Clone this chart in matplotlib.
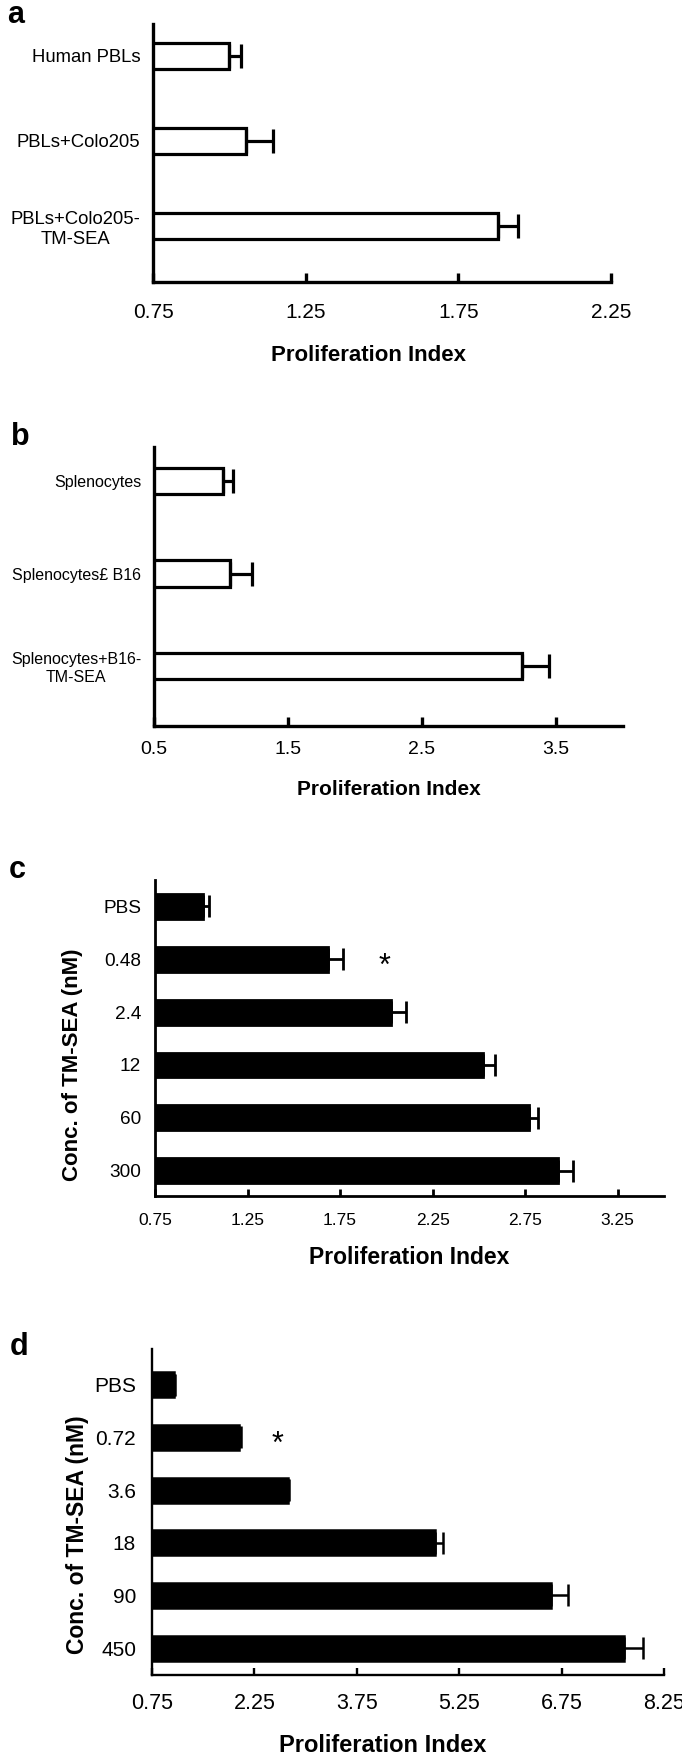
import matplotlib
matplotlib.use("Agg")
import matplotlib.pyplot as plt

plt.rcParams['font.family'] = ['Liberation Sans', 'DejaVu Sans']

# Taille de la figure (pixels)
FIG_W, FIG_H = 682, 1757
DPI = 100

# Panel a
a_labels = ["Human PBLs", "PBLs+Colo205", "PBLs+Colo205-\nTM-SEA"]
a_values = [1.00, 1.053, 1.88]
a_errors = [0.039, 0.089, 0.067]
a_ticks = [0.75, 1.25, 1.75, 2.25]

# Panel b
b_labels = ["Splenocytes", "Splenocytes£ B16", "Splenocytes+B16-\nTM-SEA"]
b_values = [1.018, 1.067, 3.244]
b_errors = [0.072, 0.161, 0.206]
b_ticks = [0.5, 1.5, 2.5, 3.5]

# Panel c
c_labels = ["PBS", "0.48", "2.4", "12", "60", "300"]
c_values = [1.012, 1.684, 2.027, 2.523, 2.769, 2.925]
c_errors = [0.028, 0.083, 0.078, 0.062, 0.052, 0.085]
c_ticks = [0.75, 1.25, 1.75, 2.25, 2.75, 3.25]
c_star = (1.99, 1)

# Panel d
d_labels = ["PBS", "0.72", "3.6", "18", "90", "450"]
d_values = [1.07, 2.03, 2.74, 4.89, 6.59, 7.67]
d_errors = [0.02, 0.02, 0.02, 0.13, 0.25, 0.27]
d_ticks = [0.75, 2.25, 3.75, 5.25, 6.75, 8.25]
d_star = (2.59, 1)

XLABEL = "Proliferation Index"
YLABEL = "Conc. of TM-SEA (nM)"


def draw_panel(fig, box, labels, values, errors, ticks, xlim, margins, st):
    """Dessine un panneau de barres horizontales avec barres d'erreur."""
    left, top, right, bottom = box
    ax = fig.add_axes([left / FIG_W, 1 - bottom / FIG_H,
                       (right - left) / FIG_W, (bottom - top) / FIG_H])
    n = len(labels)
    pos = list(range(n))
    ax.barh(pos, values, height=st['bar_h'], color=st['fill'],
            edgecolor='black', linewidth=st['lw'], zorder=2)
    ax.errorbar(values, pos, xerr=[[0] * n, errors], fmt='none', ecolor='black',
                elinewidth=st['lw'], capsize=st['cap'], capthick=st['lw'], zorder=3)
    ax.set_xlim(xlim)
    ax.set_ylim(n - 1 + margins[1], -margins[0])

    ax.set_xticks(ticks)
    ax.set_xticklabels([f"{t:g}" for t in ticks], fontsize=st['tick_fs'])
    ax.set_yticks(pos)
    ax.set_yticklabels(labels, fontsize=st['cat_fs'])
    for lab in ax.get_yticklabels():
        lab.set_multialignment('center')

    ax.tick_params(axis='x', direction='in', length=st['tick_len'],
                   width=st['spine'], pad=st['xpad'])
    ax.tick_params(axis='y', length=0, pad=st['ypad'])
    for side in ['top', 'right']:
        ax.spines[side].set_visible(False)
    for side in ['left', 'bottom']:
        ax.spines[side].set_linewidth(st['spine'])

    ax.set_xlabel(XLABEL, fontsize=st['xlab_fs'], fontweight='bold')
    ax.xaxis.set_label_coords(st['xlab_pos'][0], st['xlab_pos'][1])
    ax.xaxis.label.set_va('center')
    return ax


def panel_letter(fig, letter, x, y):
    fig.text(x / FIG_W, 1 - y / FIG_H, letter, fontsize=22, fontweight='bold',
             ha='center', va='baseline')


def main():
    fig = plt.figure(figsize=(FIG_W / DPI, FIG_H / DPI), dpi=DPI)

    style_a = dict(bar_h=0.30, fill='white', lw=2.3, cap=8.5, spine=2.4, tick_len=6.5,
                   tick_fs=15, cat_fs=13.3, xpad=15, ypad=9, xlab_fs=16,
                   xlab_pos=(0.47, -0.283))
    draw_panel(fig, (153, 24, 611, 282), a_labels, a_values, a_errors, a_ticks,
               (0.75, 2.25), (0.376, 0.659), style_a)
    panel_letter(fig, "a", 16, 23)

    style_b = dict(bar_h=0.29, fill='white', lw=2.3, cap=8.5, spine=2.4, tick_len=6.5,
                   tick_fs=14, cat_fs=11.5, xpad=11, ypad=9, xlab_fs=15,
                   xlab_pos=(0.5, -0.229))
    draw_panel(fig, (154, 447, 623, 726), b_labels, b_values, b_errors, b_ticks,
               (0.5, 4.0), (0.368, 0.649), style_b)
    panel_letter(fig, "b", 20, 445)

    style_c = dict(bar_h=0.47, fill='black', lw=2.0, cap=7.9, spine=2.0, tick_len=5,
                   tick_fs=12.5, cat_fs=13.7, xpad=12, ypad=10, xlab_fs=16.5,
                   xlab_pos=(0.5, -0.196))
    ax_c = draw_panel(fig, (155, 880, 664, 1196), c_labels, c_values, c_errors, c_ticks,
                      (0.75, 3.5), (0.50, 0.48), style_c)
    ax_c.set_ylabel(YLABEL, fontsize=16, fontweight='bold')
    ax_c.yaxis.set_label_coords(-0.163, 0.415)
    ax_c.yaxis.label.set_va('center')
    ax_c.text(c_star[0], c_star[1] + 0.15, "*", fontsize=22, ha='center', va='center')
    panel_letter(fig, "c", 17, 878)

    style_d = dict(bar_h=0.47, fill='black', lw=1.8, cap=7.9, spine=1.7, tick_len=5,
                   tick_fs=15.5, cat_fs=15, xpad=13, ypad=11.5, xlab_fs=17,
                   xlab_pos=(0.45, -0.215))
    ax_d = draw_panel(fig, (152, 1349, 664, 1675), d_labels, d_values, d_errors, d_ticks,
                      (0.75, 8.25), (0.68, 0.51), style_d)
    ax_d.set_ylabel(YLABEL, fontsize=16.5, fontweight='bold')
    ax_d.yaxis.set_label_coords(-0.146, 0.43)
    ax_d.yaxis.label.set_va('center')
    ax_d.text(d_star[0], d_star[1] + 0.15, "*", fontsize=22, ha='center', va='center')
    panel_letter(fig, "d", 19, 1355)

    fig.savefig("out.png", dpi=DPI)


if __name__ == "__main__":
    main()
